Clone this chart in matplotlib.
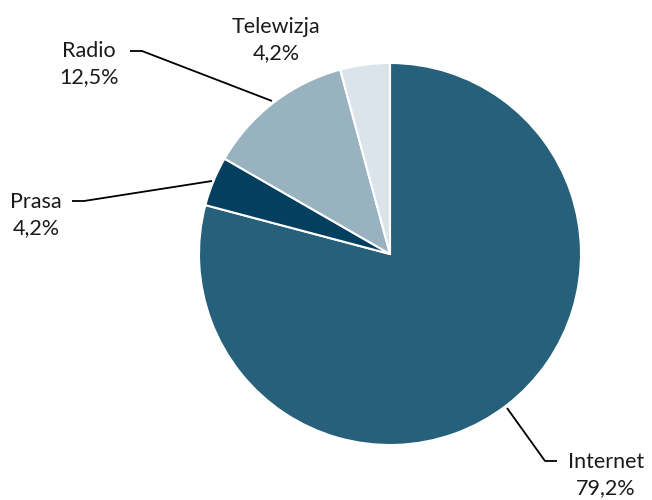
import matplotlib
matplotlib.use("Agg")
import matplotlib.pyplot as plt

categories = ["Internet", "Prasa", "Radio", "Telewizja"]
shares = [79.2, 4.2, 12.5, 4.2]
colors = ["#26607A", "#033F5E", "#98B2BF", "#DBE4EA"]

plt.rcParams["font.family"] = ["Lato", "DejaVu Sans"]

W, H = 652, 500
fig = plt.figure(figsize=(W / 100, H / 100), dpi=100)
ax = fig.add_axes([0, 0, 1, 1])

cx, cy, r = 390, 254, 191
# y axis is inverted, so counterclock=True renders clockwise on screen
wedges, _ = ax.pie(shares, colors=colors, startangle=-90, counterclock=True,
                   center=(cx, cy), radius=r, frame=True,
                   wedgeprops=dict(edgecolor="white", linewidth=1.5))
ax.set_xlim(0, W)
ax.set_ylim(H, 0)
ax.set_aspect("equal")
ax.axis("off")

def fmt(v):
    return f"{v:.1f}%".replace(".", ",")

# label text centers and leader polylines (pixel coords)
label_pos = {
    "Internet": (606, 475),
    "Prasa": (36, 215),
    "Radio": (89, 64),
    "Telewizja": (276, 40),
}
leaders = {
    "Internet": [(507, 408), (545, 461), (557, 461)],
    "Prasa": [(212, 181), (84, 201), (72, 201)],
    "Radio": [(272, 101), (142, 51), (130, 51)],
}

for cat, val in zip(categories, shares):
    x, y = label_pos[cat]
    ax.text(x, y, f"{cat}\n{fmt(val)}", ha="center", va="center",
            fontsize=15.5, color="#1a1a1a", linespacing=1.4)
    if cat in leaders:
        xs, ys = zip(*leaders[cat])
        ax.plot(xs, ys, color="black", lw=1.3, solid_capstyle="butt")

fig.savefig("out.png", dpi=100, facecolor="white")
